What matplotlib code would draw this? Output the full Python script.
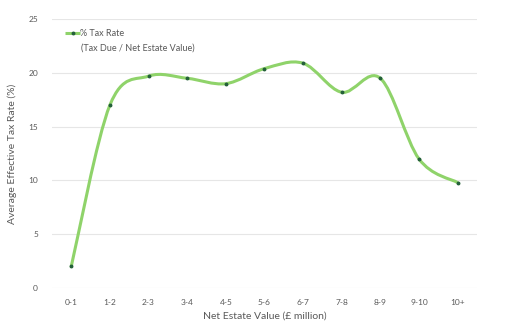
import numpy as np
import matplotlib.pyplot as plt
from matplotlib.path import Path
from matplotlib.patches import PathPatch

bands = ["0-1", "1-2", "2-3", "3-4", "4-5", "5-6", "6-7", "7-8", "8-9", "9-10", "10+"]
tax_rate = [2.0, 17.0, 19.7, 19.5, 19.0, 20.4, 20.9, 18.2, 19.5, 12.0, 9.8]

line_col = "#8fd36a"
dot_col = "#24603a"
txt_col = "#595959"

plt.rcParams["font.family"] = ["Lato", "DejaVu Sans"]

fig = plt.figure(figsize=(5.09, 3.36), dpi=100)
ax = fig.add_axes([0.102, 0.143, 0.835, 0.80])

x = np.arange(len(bands), dtype=float)
y = np.array(tax_rate)

# smoothed line: cubic bezier segments with catmull-rom style handles
verts = [(x[0], y[0])]
codes = [Path.MOVETO]
n = len(x)
for i in range(n - 1):
    p0 = np.array([x[max(i - 1, 0)], y[max(i - 1, 0)]])
    p1 = np.array([x[i], y[i]])
    p2 = np.array([x[i + 1], y[i + 1]])
    p3 = np.array([x[min(i + 2, n - 1)], y[min(i + 2, n - 1)]])
    c1 = p1 + (p2 - p0) / 6
    c2 = p2 - (p3 - p1) / 6
    verts += [tuple(c1), tuple(c2), tuple(p2)]
    codes += [Path.CURVE4] * 3
ax.add_patch(PathPatch(Path(verts, codes), fill=False, edgecolor=line_col,
                       lw=2.2, capstyle="round", joinstyle="round", zorder=3))
ax.plot(x, y, ls="none", marker="o", ms=1.8, color=dot_col, zorder=4)

ax.set_xlim(-0.5, len(bands) - 0.5)
ax.set_ylim(0, 25)
ax.set_yticks([0, 5, 10, 15, 20, 25])
ax.set_xticks(x)
ax.set_xticklabels(bands)
ax.grid(axis="y", color="#e6e6e6", lw=0.8)
ax.set_axisbelow(True)
for s in ax.spines.values():
    s.set_visible(False)
ax.tick_params(length=0, labelsize=6, colors=txt_col, pad=8)
ax.tick_params(axis="y", pad=10)

ax.set_xlabel("Net Estate Value (£ million)", fontsize=7.5, color=txt_col, labelpad=4)
ax.set_ylabel("Average Effective Tax Rate (%)", fontsize=7.5, color=txt_col, labelpad=8)

# legend drawn by hand so the second line hangs under the first
ax.plot([0.031, 0.066], [0.948, 0.948], transform=ax.transAxes, color=line_col,
        lw=2.2, solid_capstyle="butt", clip_on=False)
ax.plot([0.049], [0.948], transform=ax.transAxes, marker="o", ms=1.8,
        color=dot_col, clip_on=False)
ax.text(0.067, 0.948, "% Tax Rate", transform=ax.transAxes, fontsize=6.5,
        color=txt_col, va="center", ha="left")
ax.text(0.069, 0.893, "(Tax Due / Net Estate Value)", transform=ax.transAxes,
        fontsize=6.5, color=txt_col, va="center", ha="left")

fig.savefig("out.png", dpi=100)
